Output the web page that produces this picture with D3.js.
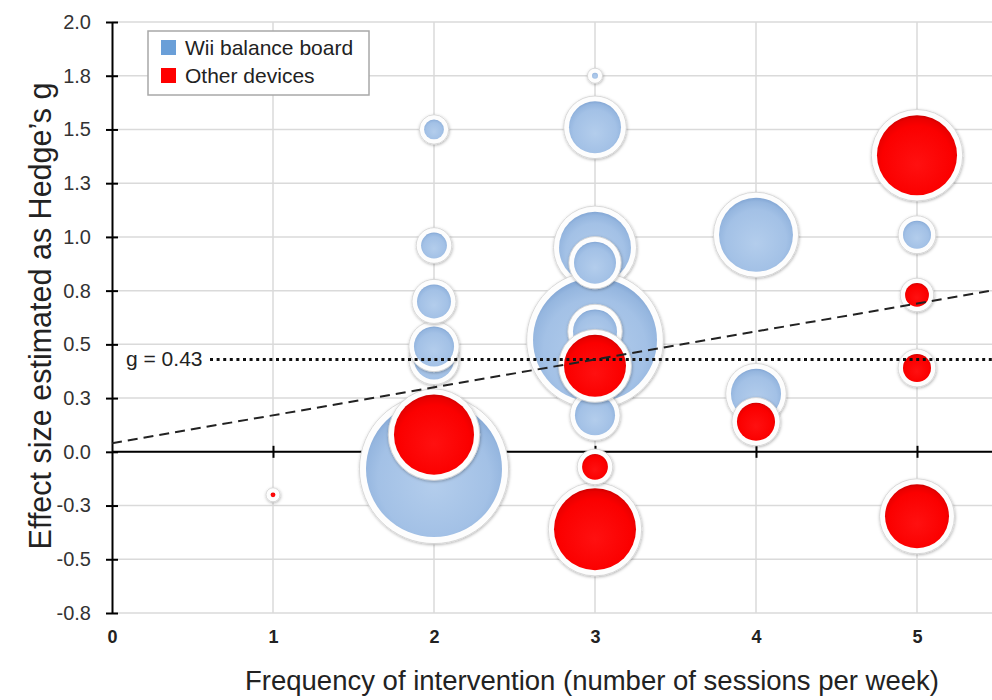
<!DOCTYPE html>
<html>
<head>
<meta charset="utf-8">
<script src="https://cdn.jsdelivr.net/npm/d3@7"></script>
<style>
  html, body { margin: 0; padding: 0; background: #fff; }
  svg { display: block; font-family: Arial, "Liberation Sans", sans-serif; }
</style>
</head>
<body>
<svg id="chart" width="992" height="700"></svg>
<script>
// Studies: sessions per week, Hedges' g, and study weight (bubble area)
const wiiFreq   = [2,     3,    3,    4,    3,    4,    3,    3,    2,    2,    3,    2,    5,    2,    2,    3];
const wiiG      = [-0.08, 0.95, 0.52, 1.01, 1.51, 0.27, 0.56, 0.88, 0.43, 0.49, 0.17, 0.70, 1.01, 0.96, 1.50, 1.75];
const wiiWeight = [94.4,  26.4, 78.4, 27.9, 13.8, 12.8, 9.9,  9.0,  8.2,  8.2,  8.2,  5.9,  4.0,  3.4,  2.0,  0.18];

const otherFreq   = [3,     2,    5,    5,     3,    4,    5,    3,     5,    1];
const otherG      = [-0.36, 0.08, 1.38, -0.30, 0.40, 0.14, 0.39, -0.07, 0.73, -0.20];
const otherWeight = [34.3,  32.7, 32.7, 20.9,  19.6, 7.4,  4.0,  3.4,   2.9,  0.12];

const seriesNames = ["Wii balance board", "Other devices"];
const xTickValues = [0, 1, 2, 3, 4, 5];
const xTickLabels = ["0", "1", "2", "3", "4", "5"];
const yTickValues = [-0.75, -0.5, -0.25, 0, 0.25, 0.5, 0.75, 1, 1.25, 1.5, 1.75, 2];
const yTickLabels = ["-0.8", "-0.5", "-0.3", "0.0", "0.3", "0.5", "0.8", "1.0", "1.3", "1.5", "1.8", "2.0"];

// Pooled effect and meta-regression line (g = intercept + slope * frequency)
const pooledG = 0.43;
const regIntercept = 0.04;
const regSlope = 0.13;

const svg = d3.select("#chart");
const W = 992;

const x = d3.scaleLinear().domain([0, 5.5]).range([112, 112 + 5.5 * 161]);
const y = d3.scaleLinear().domain([-0.75, 2.0]).range([613, 22]);
const r = d3.scaleSqrt().domain([0, 100]).range([0, 70]);

const defs = svg.append("defs");
const glow = defs.append("filter").attr("id", "ringShadow")
  .attr("x", "-30%").attr("y", "-30%").attr("width", "160%").attr("height", "160%");
glow.append("feDropShadow").attr("dx", 0.5).attr("dy", 1).attr("stdDeviation", 1.6)
  .attr("flood-color", "#000").attr("flood-opacity", 0.3);

function radial(id, stops) {
  const g = defs.append("radialGradient").attr("id", id)
    .attr("cx", "50%").attr("cy", "56%").attr("r", "55%").attr("fx", "50%").attr("fy", "62%");
  stops.forEach(s => g.append("stop").attr("offset", s[0]).attr("stop-color", s[1]));
}
radial("gradWii", [[0, "#b3cdec"], [0.75, "#a3c1e6"], [0.93, "#95b6df"], [1, "#86a9d6"]]);
radial("gradOther", [[0, "#ff1010"], [0.8, "#fb0000"], [0.95, "#ea0000"], [1, "#d20000"]]);

// Grid
const grid = svg.append("g");
grid.selectAll("line.h").data(yTickValues).join("line")
  .attr("x1", x(0)).attr("x2", W)
  .attr("y1", d => y(d)).attr("y2", d => y(d))
  .attr("stroke", "#dadada").attr("stroke-width", 1.5);
grid.selectAll("line.v").data(xTickValues.filter(v => v > 0)).join("line")
  .attr("x1", d => x(d)).attr("x2", d => x(d))
  .attr("y1", y(2.0)).attr("y2", y(-0.75))
  .attr("stroke", "#dadada").attr("stroke-width", 1.5);

// Zero line with crossing ticks
const zeroAxis = svg.append("g").attr("transform", `translate(0,${y(0)})`)
  .call(d3.axisBottom(x).tickValues([1, 2, 3, 4, 5]).tickFormat("").tickSizeOuter(0).tickSizeInner(6));
zeroAxis.select(".domain").attr("d", `M${x(0)},0H${W}`).attr("stroke", "#000").attr("stroke-width", 2);
zeroAxis.selectAll(".tick line").attr("y1", -6).attr("y2", 6).attr("stroke", "#000").attr("stroke-width", 2);

// Bottom tick labels
const xLabels = svg.append("g").attr("transform", `translate(0,${y(-0.75)})`)
  .call(d3.axisBottom(x).tickValues(xTickValues).tickFormat((d, i) => xTickLabels[i]).tickSize(0));
xLabels.select(".domain").remove();
xLabels.selectAll(".tick text")
  .attr("y", 30).attr("dy", 0)
  .attr("font-size", 18).attr("font-weight", "bold").attr("fill", "#222")
  .attr("font-family", "Arial, 'Liberation Sans', sans-serif");

// Y axis
const yAxis = svg.append("g").attr("transform", `translate(${x(0)},0)`)
  .call(d3.axisLeft(y).tickValues(yTickValues).tickFormat((d, i) => yTickLabels[i]).tickSizeOuter(0).tickSizeInner(6).tickPadding(15));
yAxis.select(".domain").attr("stroke", "#000").attr("stroke-width", 2);
yAxis.selectAll(".tick line").attr("x1", -6).attr("x2", 6).attr("stroke", "#000").attr("stroke-width", 2);
yAxis.selectAll(".tick text")
  .attr("font-size", 20).attr("fill", "#333")
  .attr("font-family", "Arial, 'Liberation Sans', sans-serif");

// Bubbles
const studies = [];
wiiFreq.forEach((f, i) => studies.push({ f, g: wiiG[i], w: wiiWeight[i], s: 0 }));
otherFreq.forEach((f, i) => studies.push({ f, g: otherG[i], w: otherWeight[i], s: 1 }));

const bubbles = svg.append("g").selectAll("g").data(studies).join("g")
  .attr("transform", d => `translate(${x(d.f)},${y(d.g)})`);
bubbles.append("circle")
  .attr("r", d => r(d.w) + 4.5 + r(d.w) * 0.03)
  .attr("fill", "#fdfdfd").attr("stroke", "#d2d2d2").attr("stroke-width", 0.8)
  .attr("filter", "url(#ringShadow)");
bubbles.append("circle")
  .attr("r", d => r(d.w))
  .attr("fill", d => d.s === 0 ? "url(#gradWii)" : "url(#gradOther)");

// Pooled effect (dotted) and regression (dashed)
svg.append("line")
  .attr("x1", 210).attr("x2", W)
  .attr("y1", y(pooledG)).attr("y2", y(pooledG))
  .attr("stroke", "#111").attr("stroke-width", 3).attr("stroke-dasharray", "3,3.6");
svg.append("text")
  .attr("x", 126).attr("y", y(pooledG) + 7)
  .attr("font-size", 21).attr("fill", "#222")
  .text(`g = ${pooledG}`);

const xEnd = x.invert(W);
svg.append("line")
  .attr("x1", x(0)).attr("y1", y(regIntercept))
  .attr("x2", x(xEnd)).attr("y2", y(regIntercept + regSlope * xEnd))
  .attr("stroke", "#222").attr("stroke-width", 2).attr("stroke-dasharray", "10,6");

// Legend
const legend = svg.append("g").attr("transform", "translate(148,31)");
legend.append("rect").attr("width", 221).attr("height", 64)
  .attr("fill", "#fff").attr("stroke", "#a8a8a8").attr("stroke-width", 1.5);
const legendColors = ["#6a9fd8", "#ff0000"];
seriesNames.forEach((name, i) => {
  legend.append("rect").attr("x", 13).attr("y", 9 + i * 28).attr("width", 15).attr("height", 15)
    .attr("fill", legendColors[i]);
  legend.append("text").attr("x", 37).attr("y", 24 + i * 28)
    .attr("font-size", 21).attr("fill", "#222").text(name);
});

// Axis titles
svg.append("text")
  .attr("x", 592).attr("y", 690).attr("text-anchor", "middle")
  .attr("font-size", 27.5).attr("fill", "#222")
  .text("Frequency of intervention (number of sessions per week)");
svg.append("text")
  .attr("transform", "translate(51,316) rotate(-90)").attr("text-anchor", "middle")
  .attr("font-size", 30.5).attr("fill", "#222")
  .text("Effect size estimated as Hedge’s g");
</script>
</body>
</html>
